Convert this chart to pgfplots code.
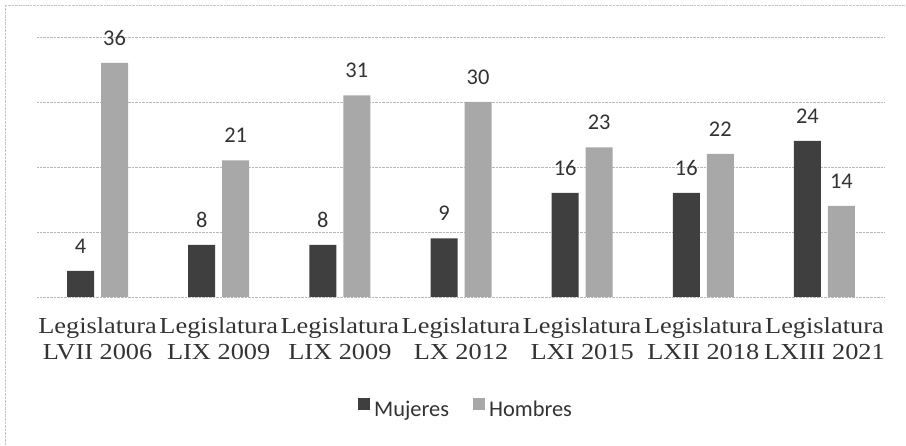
\documentclass[border=0pt]{standalone}
\usepackage{fontspec}
\setmainfont{Carlito}
\newfontfamily\tickfont[FakeStretch=1.15]{Liberation Serif}
\usepackage{pgfplots}
\pgfplotsset{compat=1.18}
\definecolor{muj}{HTML}{3F3F3F}
\definecolor{hom}{HTML}{A8A8A8}
\pgfplotsset{sqlegend/.style={legend image code/.code={\fill[##1] (0bp,-1bp) rectangle (12bp,11bp);}}}
\begin{document}
\begin{tikzpicture}[x=1bp,y=1bp]
\useasboundingbox (0,0) rectangle (906,446);
\draw[gray!45, densely dotted] (5,0) -- (5,441) -- (906,441);
\begin{axis}[
  at={(37bp,149bp)}, anchor=south west,
  scale only axis, width=848bp, height=260bp,
  xmin=-0.5, xmax=6.5, ymin=0, ymax=40,
  axis line style={draw=none},
  tick style={draw=none},
  ytick={0,10,20,30,40}, yticklabels={},
  ymajorgrids, major grid style={densely dotted, gray!55},
  ybar=7bp, bar width=27bp,
  xtick={0,1,2,3,4,5,6},
  xticklabels={{Legislatura\\LVII 2006},{Legislatura\\LIX 2009},{Legislatura\\LIX 2009},{Legislatura\\LX 2012},{Legislatura\\LXI 2015},{Legislatura\\LXII 2018},{Legislatura\\LXIII 2021}},
  xticklabel style={align=center, font=\tickfont\fontsize{23}{26}\selectfont, text=black!80, yshift=-13bp},
  /pgf/number format/assume math mode=true,
  nodes near coords,
  every node near coord/.append style={font=\fontsize{22.5}{26}\selectfont, text=black!80, yshift=14bp},
  legend style={at={(0.506,-0.431)}, anchor=center, draw=none, font=\fontsize{22.5}{26}\selectfont, text=black!80,
    /tikz/every odd column/.append style={column sep=2bp},
    /tikz/every even column/.append style={column sep=22bp}},
  legend columns=2,
]
\addplot[fill=muj, draw=none, sqlegend] coordinates {(0,4) (1,8) (2,8) (3,9) (4,16) (5,16) (6,24)};
\addplot[fill=hom, draw=none, sqlegend] coordinates {(0,36) (1,21) (2,31) (3,30) (4,23) (5,22) (6,14)};
\legend{Mujeres, Hombres}
\end{axis}
\end{tikzpicture}
\end{document}
